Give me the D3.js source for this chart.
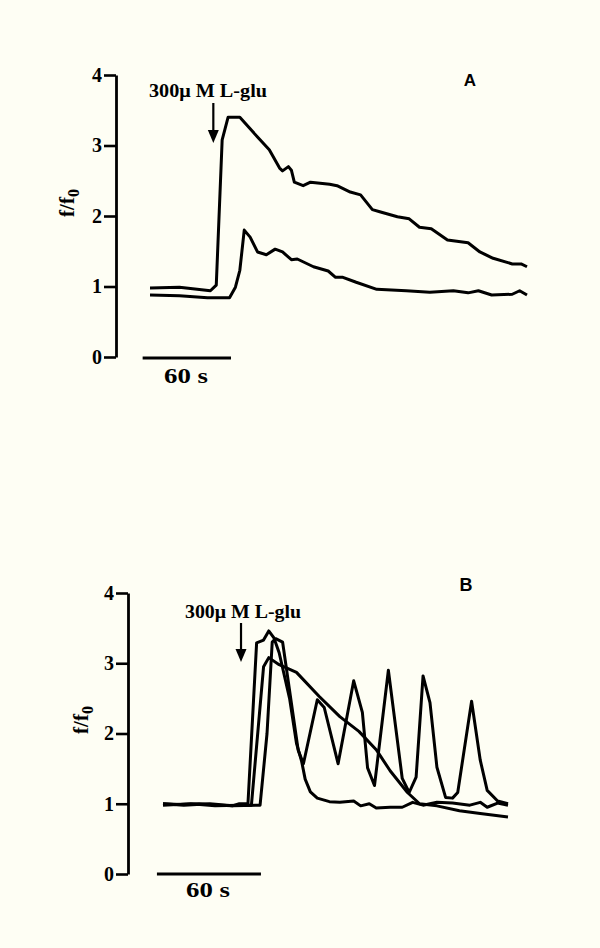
<!DOCTYPE html>
<html>
<head>
<meta charset="utf-8">
<script src="https://cdn.jsdelivr.net/npm/d3@7"></script>
<style>
  body { margin: 0; background: #fefef4; }
  svg { display: block; }
  .tick text { font-family: "Liberation Serif", "Times New Roman", serif; font-weight: bold; font-size: 20px; }
</style>
</head>
<body>
<svg id="chart" width="600" height="948"></svg>
<script>
// time (s) and f/f0
const yTicks = [0, 1, 2, 3, 4];
const agonistLabel = "300\u03bc M L-glu";

const traceA1 = [[0,0.98],[20,0.99],[41,0.94],[45,1.02],[49,3.08],[53,3.4],[61,3.4],[73,3.12],[81,2.94],[88,2.68],[90,2.64],[94,2.7],[96,2.65],[98,2.48],[104,2.43],[109,2.48],[122,2.45],[127,2.43],[136,2.34],[143,2.3],[151,2.09],[156,2.06],[168,1.99],[176,1.96],[183,1.84],[191,1.82],[202,1.66],[216,1.62],[224,1.49],[233,1.4],[246,1.32],[252,1.32],[256,1.28]];
const traceA2 = [[0,0.88],[20,0.87],[39,0.84],[54,0.84],[58,0.99],[61,1.23],[64,1.8],[68,1.7],[73,1.49],[79,1.45],[85,1.53],[90,1.49],[96,1.38],[100,1.39],[111,1.28],[121,1.22],[126,1.13],[131,1.13],[140,1.06],[154,0.96],[174,0.94],[190,0.92],[206,0.94],[216,0.91],[223,0.94],[232,0.88],[246,0.89],[251,0.94],[256,0.88]];
const arrowA = 43;

const traceB1 = [[0,1.0],[10,0.99],[21,1.0],[33,0.98],[40,0.97],[44,1.0],[49,1.0],[54,3.29],[58,3.33],[61,3.46],[64,3.36],[67,3.15],[73,2.5],[77,1.86],[80,1.6],[82,1.35],[85,1.17],[89,1.08],[96,1.03],[102,1.02],[110,1.04],[114,0.97],[119,1.0],[123,0.94],[131,0.95],[138,0.95],[144,1.02],[150,0.98],[158,1.02],[167,1.01],[177,0.98],[183,1.02],[187,0.95],[193,1.01],[199,0.98]];
const traceB2 = [[0,0.98],[16,1.0],[30,0.97],[44,0.98],[51,0.98],[58,2.95],[61,3.08],[67,2.98],[77,2.87],[90,2.53],[102,2.24],[113,2.03],[123,1.77],[131,1.47],[141,1.16],[148,1.0],[158,0.97],[171,0.9],[183,0.86],[199,0.81]];
const traceB3 = [[0,1.0],[12,0.98],[27,1.0],[40,0.97],[56,0.98],[60,2.0],[63,3.3],[65,3.35],[69,3.3],[78,1.76],[81,1.57],[89,2.48],[93,2.37],[101,1.57],[110,2.75],[115,2.3],[118,1.51],[122,1.26],[130,2.9],[138,1.36],[142,1.16],[146,1.38],[150,2.82],[154,2.44],[158,1.52],[163,1.09],[167,1.08],[170,1.16],[178,2.46],[183,1.62],[187,1.19],[193,1.04],[199,1.0]];
const arrowB = 45;

const panels = [
  { name: "A", traces: [traceA1, traceA2], tMax: 256, xRange: [150, 527], yRange: [357, 75],
    axisX: 116, barStart: -5, barY: 358, arrowT: arrowA, arrowTop: 103, arrowTip: 143,
    labelX: 149, labelY: 97, labelW: 118, barTextX: 164, barTextY: 383,
    letterX: 470, letterY: 86, letterSize: 17, ylabX: 74, ylabY: 203 },
  { name: "B", traces: [traceB1, traceB2, traceB3], tMax: 199, xRange: [163, 508], yRange: [874, 593],
    axisX: 128, barStart: -3.5, barY: 874, arrowT: arrowB, arrowTop: 623, arrowTip: 662,
    labelX: 185, labelY: 618, labelW: 116, barTextX: 186, barTextY: 897,
    letterX: 466, letterY: 591, letterSize: 18, ylabX: 88, ylabY: 720 }
];

const svg = d3.select("#chart");
svg.append("rect").attr("width", 600).attr("height", 948).attr("fill", "#fefef4");

const serif = '"Liberation Serif", "Times New Roman", serif';

panels.forEach(p => {
  const x = d3.scaleLinear().domain([0, p.tMax]).range(p.xRange);
  const y = d3.scaleLinear().domain([0, 4]).range(p.yRange);
  const g = svg.append("g");

  const line = d3.line().x(d => x(d[0])).y(d => y(d[1]));
  g.selectAll("path.trace").data(p.traces).join("path")
    .attr("class", "trace")
    .attr("d", line)
    .attr("fill", "none")
    .attr("stroke", "#000")
    .attr("stroke-width", 3)
    .attr("stroke-linejoin", "round");

  const ax = g.append("g")
    .attr("transform", `translate(${p.axisX},0)`)
    .call(d3.axisLeft(y).tickValues(yTicks).tickSize(12).tickSizeOuter(0).tickPadding(2).tickFormat(d3.format("d")));
  ax.select(".domain").attr("stroke-width", 2.8);
  ax.selectAll(".tick line").attr("stroke-width", 2.6);

  // y label
  const yl = g.append("text")
    .attr("transform", `translate(${p.ylabX},${p.ylabY}) rotate(-90)`)
    .attr("text-anchor", "middle")
    .attr("font-family", serif).attr("font-weight", "bold").attr("font-size", 21);
  yl.append("tspan").text("f/f");
  yl.append("tspan").attr("dy", 5).attr("font-size", 16).text("0");

  // 60 s scale bar
  g.append("line")
    .attr("x1", x(p.barStart)).attr("x2", x(p.barStart + 60))
    .attr("y1", p.barY).attr("y2", p.barY)
    .attr("stroke", "#000").attr("stroke-width", 2.8);
  g.append("text")
    .attr("x", p.barTextX).attr("y", p.barTextY)
    .attr("font-family", serif).attr("font-weight", "bold").attr("font-size", 21)
    .attr("textLength", 44).attr("lengthAdjust", "spacingAndGlyphs")
    .text("60 s");

  // agonist arrow + label
  const ax0 = x(p.arrowT);
  g.append("line")
    .attr("x1", ax0).attr("x2", ax0)
    .attr("y1", p.arrowTop).attr("y2", p.arrowTip - 10)
    .attr("stroke", "#000").attr("stroke-width", 2.2);
  g.append("path")
    .attr("d", `M${ax0 - 5.5},${p.arrowTip - 13} L${ax0 + 5.5},${p.arrowTip - 13} L${ax0},${p.arrowTip} Z`)
    .attr("fill", "#000");
  g.append("text")
    .attr("x", p.labelX).attr("y", p.labelY)
    .attr("font-family", serif).attr("font-weight", "bold").attr("font-size", 18)
    .attr("textLength", p.labelW).attr("lengthAdjust", "spacingAndGlyphs")
    .text(agonistLabel);

  // panel letter
  g.append("text")
    .attr("x", p.letterX).attr("y", p.letterY)
    .attr("text-anchor", "middle")
    .attr("font-family", '"Liberation Sans", Arial, sans-serif').attr("font-weight", "bold")
    .attr("font-size", p.letterSize)
    .text(p.name);
});
</script>
</body>
</html>
